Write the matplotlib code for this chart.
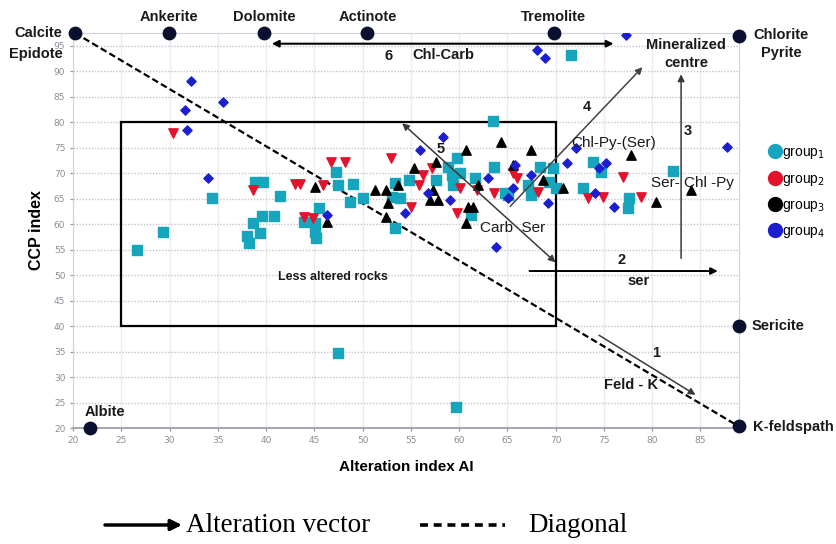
import numpy as np
import matplotlib
matplotlib.use("Agg")
from matplotlib import pyplot as plt
from matplotlib.lines import Line2D

# group data (Alteration index AI, CCP index)
g1_x = [26.6, 29.3, 34.4, 38.9, 39.7, 41.4, 39.6, 40.8, 38.7, 39.4, 38.0, 38.2, 45.5, 43.9, 45.1, 45.1,
        45.2, 47.5, 59.7, 47.2, 47.5, 49.0, 48.7, 50.0, 53.4, 53.1, 53.9, 53.4, 54.8, 57.6, 58.8, 59.3,
        59.8, 60.1, 59.4, 61.7, 61.2, 63.5, 68.4, 69.7, 67.1, 67.4, 65.1, 69.3, 70.0, 72.8, 73.9, 74.7,
        77.6, 77.5, 71.6, 82.2, 63.6, 64.8]
g1_y = [55.0, 58.4, 65.1, 68.2, 68.2, 65.5, 61.6, 61.6, 60.2, 58.2, 57.6, 56.3, 63.1, 60.4, 60.2, 58.4,
        57.3, 34.7, 24.1, 70.2, 67.6, 67.8, 64.3, 65.1, 68.0, 65.3, 65.1, 59.2, 68.6, 68.6, 71.2, 69.6,
        72.9, 70.0, 67.6, 69.0, 61.8, 80.2, 71.2, 71.0, 67.6, 65.7, 65.7, 68.2, 67.1, 67.1, 72.2, 70.2,
        65.1, 63.1, 93.1, 70.4, 71.2, 66.1]

g2_x = [30.4, 38.7, 43.0, 43.5, 43.9, 44.9, 45.9, 46.7, 48.2, 52.9, 55.8, 56.3, 57.2, 55.0, 60.1, 59.8,
        61.9, 63.6, 65.6, 66.0, 68.2, 73.4, 74.9, 77.0, 78.8]
g2_y = [77.8, 66.7, 67.8, 67.8, 61.4, 61.2, 67.6, 72.2, 72.2, 72.9, 67.6, 69.6, 71.0, 63.3, 67.1, 62.2,
        66.7, 66.1, 70.0, 69.0, 66.3, 65.1, 65.3, 69.2, 65.3]

g3_x = [45.1, 46.3, 51.3, 52.4, 52.6, 52.4, 53.7, 55.3, 57.6, 57.3, 57.0, 57.8, 60.7, 60.9, 61.4, 60.7,
        64.3, 67.4, 65.6, 68.7, 70.8, 62.0, 77.8, 80.4, 84.0]
g3_y = [67.3, 60.4, 66.7, 66.7, 64.1, 61.4, 67.6, 71.0, 72.2, 66.7, 64.7, 64.7, 74.5, 63.3, 63.3, 60.2,
        76.1, 74.5, 71.6, 68.6, 67.1, 67.6, 73.5, 64.3, 66.7]

g4_x = [32.2, 31.6, 35.5, 31.8, 34.0, 46.3, 56.0, 58.3, 56.8, 54.4, 59.1, 63.0, 65.8, 67.4, 65.6, 65.1,
        69.2, 63.8, 72.1, 71.2, 75.2, 74.5, 74.1, 76.0, 77.3, 87.8, 68.1, 68.9]
g4_y = [88.0, 82.4, 83.9, 78.4, 69.0, 61.8, 74.5, 77.1, 66.1, 62.2, 64.7, 69.0, 71.6, 69.6, 67.1, 65.1,
        64.1, 55.5, 74.9, 72.0, 72.0, 71.0, 66.1, 63.3, 97.1, 75.1, 94.1, 92.5]

# end-member minerals
mineral_x = [20.2, 29.9, 39.8, 50.5, 69.8, 89.0, 89.0, 89.0, 21.8]
mineral_y = [97.5, 97.5, 97.5, 97.5, 97.5, 97.0, 40.0, 20.3, 20.0]
mineral_names = ["Calcite\nEpidote", "Ankerite", "Dolomite", "Actinote", "Tremolite",
                 "Chlorite\nPyrite", "Sericite", "K-feldspath", "Albite"]

group_labels = ["group$_1$", "group$_2$", "group$_3$", "group$_4$"]

cyan = "#17a5bd"
red = "#e3132c"
blue = "#1b1fd0"
navy = "#0b1030"

fig = plt.figure(figsize=(8.36, 5.44), dpi=100)
ax = fig.add_axes([73 / 836, 1 - 428 / 544, 666 / 836, 395 / 544])
ax.set_xlim(20, 89)
ax.set_ylim(20, 97.5)

# grid
for v in range(20, 90, 5):
    ax.axvline(v, color="#ececf0", lw=1, zorder=0)
for v in range(25, 100, 5):
    ax.axhline(v, color="#c4c6d2", lw=1, ls=(0, (1, 1.2)), zorder=0)
for s in ax.spines.values():
    s.set_color("#cfd2dc")
ax.spines["bottom"].set_color("#a8a8b0")
ax.spines["bottom"].set_linewidth(1.5)

ax.set_xticks(range(20, 90, 5))
ax.set_yticks(range(20, 100, 5))
ax.tick_params(labelsize=6.5, colors="#8c8c98", length=2, width=0.8)

# diagonal
ax.plot([mineral_x[0], mineral_x[7]], [mineral_y[0], mineral_y[7]], color="black", lw=1.6,
        ls=(0, (3, 1.5)), zorder=3)

# less altered box
ax.add_patch(plt.Rectangle((25, 40), 45, 40, fill=False, ec="black", lw=1.6, zorder=2))

ax.scatter(g1_x, g1_y, marker="s", s=55, color=cyan, zorder=4)
ax.scatter(g2_x, g2_y, marker="v", s=45, color=red, zorder=4)
ax.scatter(g3_x, g3_y, marker="^", s=45, color="black", zorder=4)
ax.scatter(g4_x, g4_y, marker="D", s=22, color=blue, zorder=4)

ax.scatter(mineral_x, mineral_y, s=80, color=navy, zorder=6, clip_on=False)

lab = dict(fontsize=10.5, fontweight="bold", family="Liberation Sans", color="#1a1a1a",
           textcoords="offset pixels", annotation_clip=False, zorder=8)
ax.annotate("Calcite", (mineral_x[0], mineral_y[0]), xytext=(-13, 0), ha="right", va="center", **lab)
ax.annotate("Epidote", (mineral_x[0], mineral_y[0]), xytext=(-12, -21), ha="right", va="center", **lab)
for i in range(1, 5):
    ax.annotate(mineral_names[i], (mineral_x[i], mineral_y[i]), xytext=(0, 16), ha="center",
                va="center", **lab)
ax.annotate("Chlorite", (mineral_x[5], mineral_y[5]), xytext=(42, 1), ha="center", va="center", **lab)
ax.annotate("Pyrite", (mineral_x[5], mineral_y[5]), xytext=(42, -17), ha="center", va="center", **lab)
ax.annotate("Sericite", (mineral_x[6], mineral_y[6]), xytext=(13, 0), ha="left", va="center", **lab)
ax.annotate("K-feldspath", (mineral_x[7], mineral_y[7]), xytext=(14, -1), ha="left", va="center", **lab)
ax.annotate("Albite", (mineral_x[8], mineral_y[8]), xytext=(-6, 16), ha="left", va="center", **lab)

# alteration vectors
arr = dict(arrowstyle="-|>", color="#3a3a3a", lw=1.1, mutation_scale=10, shrinkA=0, shrinkB=0)
arr2 = dict(arr, arrowstyle="<|-|>")
ax.annotate("", xy=(84.5, 26.5), xytext=(74.5, 38.2), arrowprops=arr, zorder=5)
ax.annotate("", xy=(86.8, 50.8), xytext=(67.3, 50.8), arrowprops=dict(arr, color="black", lw=1.4), zorder=5)
ax.annotate("", xy=(83.0, 89.4), xytext=(83.0, 53.3), arrowprops=arr, zorder=5)
ax.annotate("", xy=(79.0, 90.8), xytext=(65.3, 63.5), arrowprops=dict(arr, color="#4a4040"), zorder=5)
ax.annotate("", xy=(54.1, 79.8), xytext=(70.0, 52.5), arrowprops=arr2, zorder=5)
ax.annotate("", xy=(40.6, 95.4), xytext=(76.0, 95.4), arrowprops=dict(arr2, color="black", lw=1.5), zorder=5)

bold = dict(fontsize=10.5, fontweight="bold", family="Liberation Sans", ha="center", va="center",
            color="#1a1a1a", zorder=7)
reg = dict(fontsize=11, family="Liberation Sans", ha="center", va="center", color="#1a1a1a", zorder=7)
ax.text(80.4, 34.7, "1", **bold)
ax.text(77.8, 28.4, "Feld - K", **bold)
ax.text(76.8, 53.0, "2", **bold)
ax.text(78.6, 48.8, "ser", **bold)
ax.text(83.7, 78.2, "3", **bold)
ax.text(73.2, 83.0, "4", **bold)
ax.text(58.1, 74.8, "5", **bold)
ax.text(52.7, 92.9, "6", **bold)
ax.text(58.4, 93.1, "Chl-Carb", **bold)
ax.text(83.5, 93.4, "Mineralized\ncentre", linespacing=1.3, **bold)
ax.text(76.0, 75.9, "Chl-Py-(Ser)", **reg)
ax.text(84.2, 68.0, "Ser- Chl -Py", **reg)
ax.text(65.5, 59.2, "Carb  Ser", **reg)
ax.text(46.9, 49.6, "Less altered rocks", fontsize=9, fontweight="bold", family="Liberation Sans",
        ha="center", va="center", color="#1a1a1a")

ax.set_xlabel("Alteration index AI", fontsize=11, fontweight="bold", family="Liberation Sans", labelpad=11)
ax.set_ylabel("CCP index", fontsize=11.5, fontweight="bold", family="Liberation Sans", labelpad=7)

# group legend
handles = [Line2D([], [], marker="o", ls="", ms=10, color=c) for c in [cyan, red, "black", blue]]
fig.legend(handles, group_labels, loc="upper left",
           bbox_to_anchor=(756 / 836, 1 - 134 / 544), frameon=False, handletextpad=-0.1,
           labelspacing=0.75, handlelength=1.2, borderpad=0.3,
           prop={"family": "Liberation Sans", "size": 10})

# bottom key
ky = 1 - 525 / 544
fig.add_artist(Line2D([420 / 836, 505 / 836], [ky, ky], color="black", lw=2.6, ls=(0, (2.2, 1.6))))
ax.annotate("", xy=(182 / 836, ky), xytext=(105 / 836, ky), xycoords="figure fraction",
            arrowprops=dict(arrowstyle="-|>", color="black", lw=2.5, mutation_scale=16, shrinkA=0, shrinkB=0))
fig.text(186 / 836, ky, "Alteration vector", fontsize=19.5, family="Liberation Serif", va="center")
fig.text(528 / 836, ky, "Diagonal", fontsize=19.5, family="Liberation Serif", va="center")

fig.savefig("out.png", dpi=100)
